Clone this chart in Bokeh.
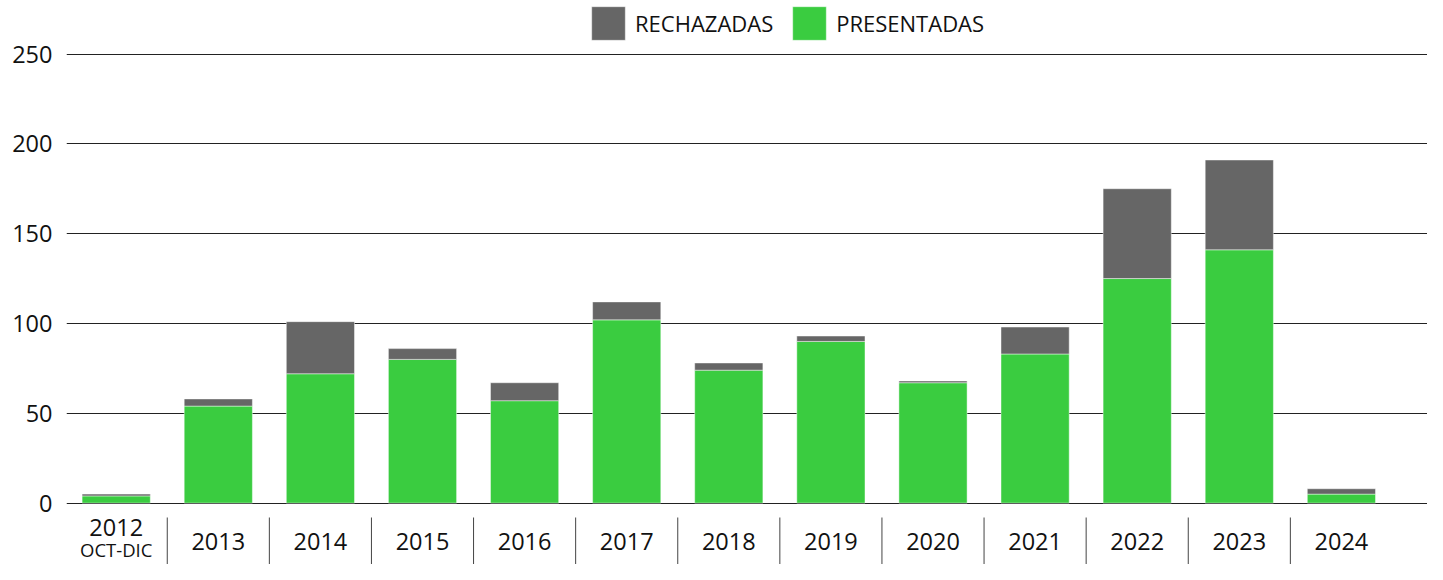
from bokeh.plotting import figure
from bokeh.models import Range1d, FixedTicker, Legend, LegendItem, ColumnDataSource
from bokeh.core.properties import value
from bokeh.embed import file_html
from bokeh.resources import INLINE

# ---- data ----
years = ["2012", "2013", "2014", "2015", "2016", "2017", "2018",
         "2019", "2020", "2021", "2022", "2023", "2024"]
sub_labels = ["OCT-DIC", "", "", "", "", "", "", "", "", "", "", "", ""]
presentadas = [4, 54, 72, 80, 57, 102, 74, 90, 67, 83, 125, 141, 5]
rechazadas = [1, 4, 29, 6, 10, 10, 4, 3, 1, 15, 50, 50, 3]
y_ticks = [0, 50, 100, 150, 200, 250]

GREEN = "#3acc40"
GREY = "#666666"
FONT = "Open Sans"

# ---- layout (pixels) ----
W, H = 1427, 564
LEFT = 66
top_px, base_px = 53.5, 502.6
scale = (base_px - top_px) / 250.0
y_end = 250 + top_px / scale
y_start = -(H - base_px) / scale

step = 102.1
first_px = 49.7
x_start = -first_px / step
x_end = x_start + (W - LEFT) / step


def py(px):
    return (base_px - px) / scale


xs = list(range(len(years)))
source = ColumnDataSource(dict(x=xs, presentadas=presentadas, rechazadas=rechazadas))

p = figure(width=W, height=H, x_range=Range1d(x_start, x_end), y_range=Range1d(y_start, y_end),
           output_backend="svg", toolbar_location=None, min_border=0, min_border_left=LEFT,
           x_axis_location=None, outline_line_color=None)

p.yaxis.ticker = FixedTicker(ticks=y_ticks)
p.ygrid.ticker = FixedTicker(ticks=y_ticks)
p.xgrid.visible = False
p.ygrid.grid_line_color = "#222222"
p.ygrid.grid_line_width = 1
p.yaxis.axis_line_color = None
p.yaxis.major_tick_line_color = None
p.yaxis.minor_tick_line_color = None
p.yaxis.major_tick_out = 0
p.yaxis.major_tick_in = 0
p.yaxis.major_label_standoff = 14
p.yaxis.major_label_text_font = FONT
p.yaxis.major_label_text_font_size = "23.5px"
p.yaxis.major_label_text_color = "#111111"

rs = p.vbar_stack(["presentadas", "rechazadas"], x="x", width=0.668, color=[GREEN, GREY],
                  source=source, line_color="white", line_alpha=0.45, line_width=1)

# x labels
lab_y = [py(527) if s else py(540.5) for s in sub_labels]
p.text(x=xs, y=lab_y, text=years, text_align="center", text_baseline="middle",
       text_font=value(FONT), text_font_size="23.5px", text_color="#111111")
sub_x = [x for x, s in zip(xs, sub_labels) if s]
sub_t = [s for s in sub_labels if s]
p.text(x=sub_x, y=[py(549)] * len(sub_x), text=sub_t, text_align="center", text_baseline="middle",
       text_font=value(FONT), text_font_size="18.5px", text_color="#111111")

# separators between categories
seps = [i + 0.5 for i in range(len(years) - 1)]
p.segment(x0=seps, y0=[py(517)] * len(seps), x1=seps, y1=[y_start] * len(seps),
          line_color="#444444", line_width=1)

legend = Legend(items=[LegendItem(label="RECHAZADAS", renderers=[rs[1]]),
                       LegendItem(label="PRESENTADAS", renderers=[rs[0]])],
                location=(521, 520), orientation="horizontal",
                glyph_width=42, glyph_height=42, label_standoff=6, spacing=15,
                padding=0, margin=0, border_line_color=None, background_fill_alpha=0,
                label_text_font=FONT, label_text_font_size="22px", label_text_color="#111111")
p.add_layout(legend)

open("out.html", "w").write(file_html(p, INLINE))
